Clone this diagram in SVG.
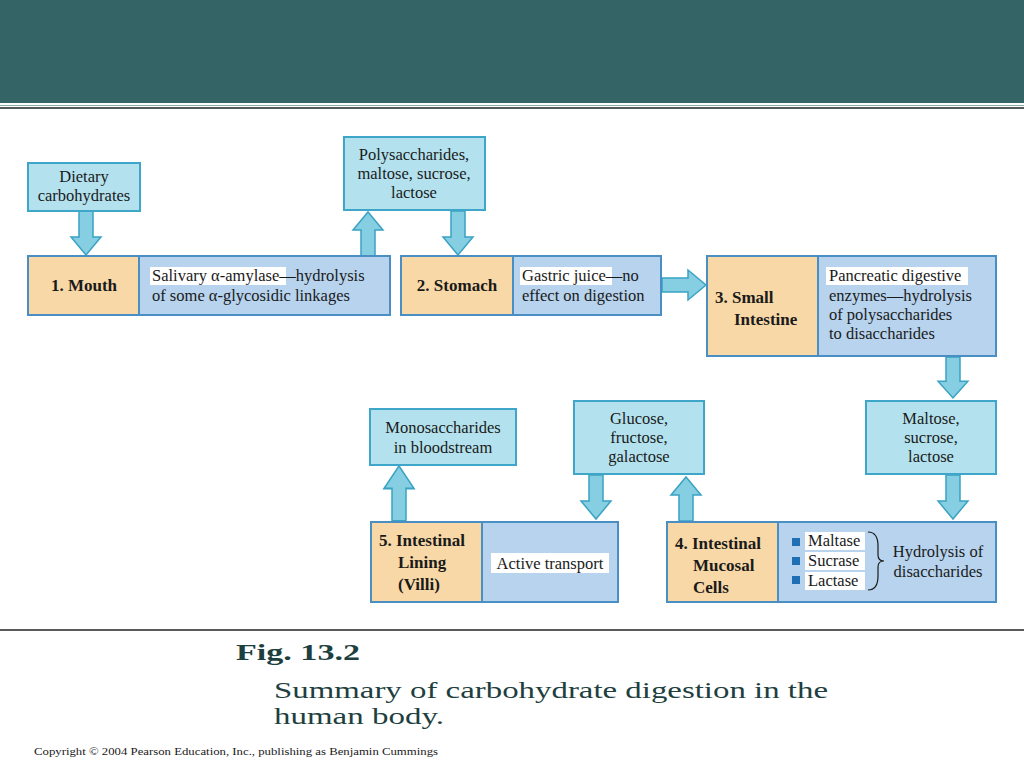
<svg xmlns="http://www.w3.org/2000/svg" width="1024" height="768" viewBox="0 0 1024 768">
<defs>
<style>
text{font-family:"Liberation Serif","Times New Roman",serif;fill:#1a1a1a}
.t{font-size:16.5px}
.b{font-size:17px;font-weight:bold}
.cap{font-family:"Liberation Serif","Times New Roman",serif;font-size:24px;fill:#1e3f40}
.cy{fill:#b3e2ee;stroke:#3ea6c8;stroke-width:2}
.or{fill:#f8d8a6;stroke:#4a8fc4;stroke-width:2}
.bl{fill:#b7d3ee;stroke:#4a8fc4;stroke-width:2}
.ar{fill:#86cfe2;stroke:#3aa3c3;stroke-width:1.5}
.hl{fill:#ffffff}
</style>
<path id="ad" d="M-7,0 H7 V26 H15 L0,44 L-15,26 H-7 Z" class="ar"/>
</defs>
<rect x="0" y="0" width="1024" height="103" fill="#356466"/>
<line x1="0" y1="105.5" x2="1024" y2="105.5" stroke="#8aa" stroke-width="1"/>
<line x1="0" y1="108" x2="1024" y2="108" stroke="#222" stroke-width="1.5"/>
<line x1="0" y1="630" x2="1024" y2="630" stroke="#222" stroke-width="1.5"/>

<g id="connectors">
<use href="#ad" x="86" y="211"/>
<use href="#ad" transform="translate(368,256) scale(1,-1)"/>
<use href="#ad" x="458" y="211"/>
<path d="M662,278 H688 V270 L706,285 L688,300 V292 H662 Z" class="ar"/>
<use href="#ad" transform="translate(953,357) scale(1,0.93)"/>
<use href="#ad" x="953" y="475"/>
<use href="#ad" x="596" y="475"/>
<use href="#ad" transform="translate(686,521) scale(1,-1)"/>
<use href="#ad" transform="translate(399,521) scale(1,-1.25)"/>
</g>

<g id="dietary"><rect class="cy" x="28" y="163" width="112" height="48"/>
<text class="t" x="84" y="182" text-anchor="middle">Dietary</text><text class="t" x="84" y="201" text-anchor="middle">carbohydrates</text></g>

<g id="poly"><rect class="cy" x="344" y="137" width="141" height="73"/>
<text class="t" x="414" y="160" text-anchor="middle">Polysaccharides,</text>
<text class="t" x="414" y="179" text-anchor="middle">maltose, sucrose,</text>
<text class="t" x="414" y="198" text-anchor="middle">lactose</text></g>

<g id="mouth"><rect class="or" x="28" y="256" width="111" height="59"/><rect class="bl" x="139" y="256" width="251" height="59"/>
<text class="b" x="84" y="291" text-anchor="middle">1. Mouth</text>
<rect class="hl" x="150" y="267" width="136" height="18"/>
<text class="t" x="152" y="281">Salivary α-amylase—hydrolysis</text>
<text class="t" x="152" y="301">of some α-glycosidic linkages</text></g>

<g id="stomach"><rect class="or" x="401" y="256" width="112" height="59"/><rect class="bl" x="513" y="256" width="148" height="59"/>
<text class="b" x="457" y="291" text-anchor="middle">2. Stomach</text>
<rect class="hl" x="520" y="267" width="92" height="18"/>
<text class="t" x="522" y="281">Gastric juice—no</text>
<text class="t" x="522" y="301">effect on digestion</text></g>

<g id="small"><rect class="or" x="707" y="256" width="111" height="100"/><rect class="bl" x="818" y="256" width="178" height="100"/>
<text class="b" x="715" y="303">3. Small</text><text class="b" x="734" y="325">Intestine</text>
<rect class="hl" x="826" y="267" width="142" height="18"/>
<text class="t" x="829" y="281">Pancreatic digestive</text>
<text class="t" x="829" y="301">enzymes—hydrolysis</text>
<text class="t" x="829" y="320">of polysaccharides</text>
<text class="t" x="829" y="339">to disaccharides</text></g>

<g id="maltose"><rect class="cy" x="866" y="401" width="130" height="73"/>
<text class="t" x="931" y="424" text-anchor="middle">Maltose,</text>
<text class="t" x="931" y="443" text-anchor="middle">sucrose,</text>
<text class="t" x="931" y="462" text-anchor="middle">lactose</text></g>

<g id="glucose"><rect class="cy" x="574" y="401" width="130" height="73"/>
<text class="t" x="639" y="424" text-anchor="middle">Glucose,</text>
<text class="t" x="639" y="443" text-anchor="middle">fructose,</text>
<text class="t" x="639" y="462" text-anchor="middle">galactose</text></g>

<g id="mono"><rect class="cy" x="370" y="409" width="146" height="56"/>
<text class="t" x="443" y="433" text-anchor="middle">Monosaccharides</text>
<text class="t" x="443" y="453" text-anchor="middle">in bloodstream</text></g>

<g id="mucosal"><rect class="or" x="667" y="522" width="111" height="80"/><rect class="bl" x="778" y="522" width="218" height="80"/>
<text class="b" x="675" y="549">4. Intestinal</text><text class="b" x="693" y="571">Mucosal</text><text class="b" x="693" y="593">Cells</text>
<rect x="792" y="538" width="8" height="8" fill="#1f6fb5"/><rect x="792" y="557" width="8" height="8" fill="#1f6fb5"/><rect x="792" y="576" width="8" height="8" fill="#1f6fb5"/>
<rect class="hl" x="805" y="532" width="60" height="18"/><rect class="hl" x="805" y="552" width="60" height="18"/><rect class="hl" x="805" y="572" width="60" height="18"/>
<text class="t" x="808" y="546">Maltase</text><text class="t" x="808" y="566">Sucrase</text><text class="t" x="808" y="586">Lactase</text>
<path d="M868,532 Q878,532 878,546 V555 Q878,561 884,561 Q878,561 878,567 V576 Q878,590 868,590" fill="none" stroke="#1a1a1a" stroke-width="1.2"/>
<text class="t" x="938" y="557" text-anchor="middle">Hydrolysis of</text>
<text class="t" x="938" y="577" text-anchor="middle">disaccharides</text></g>

<g id="villi"><rect class="or" x="371" y="522" width="111" height="80"/><rect class="bl" x="482" y="522" width="136" height="80"/>
<text class="b" x="379" y="546">5. Intestinal</text><text class="b" x="398" y="568">Lining</text><text class="b" x="398" y="590">(Villi)</text>
<rect class="hl" x="491" y="553" width="118" height="20"/>
<text class="t" x="550" y="569" text-anchor="middle">Active transport</text></g>

<text class="cap" x="236" y="660" font-weight="bold" font-size="26" textLength="124" lengthAdjust="spacingAndGlyphs">Fig. 13.2</text>
<text class="cap" x="274" y="698" textLength="554" lengthAdjust="spacingAndGlyphs">Summary of carbohydrate digestion in the</text>
<text class="cap" x="274" y="724" textLength="170" lengthAdjust="spacingAndGlyphs">human body.</text>
<text x="34" y="755" font-size="11" fill="#333" textLength="404" lengthAdjust="spacingAndGlyphs">Copyright © 2004 Pearson Education, Inc., publishing as Benjamin Cummings</text>
</svg>
